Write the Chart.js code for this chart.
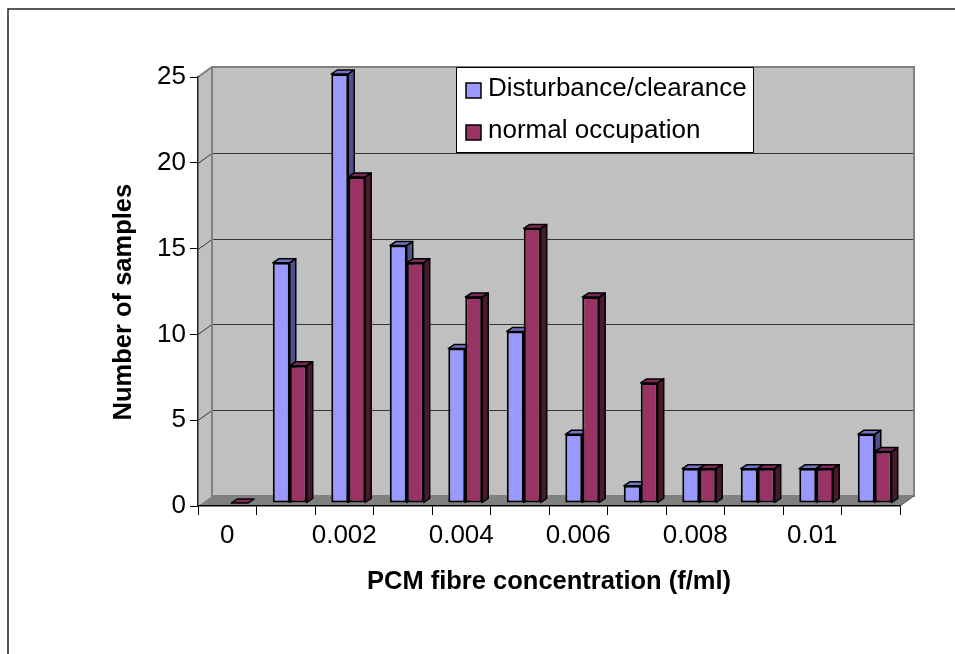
<!DOCTYPE html>
<html>
<head>
<meta charset="utf-8">
<script src="https://cdn.jsdelivr.net/npm/chart.js@4.4.1/dist/chart.umd.min.js"></script>
<style>
  html, body { margin: 0; padding: 0; background: #fff; }
</style>
</head>
<body>
<canvas id="chart" width="955" height="654"></canvas>
<script>
// data
const categories = ['0', '0.001', '0.002', '0.003', '0.004', '0.005', '0.006', '0.007', '0.008', '0.009', '0.01', '0.011'];
const disturbance = [0, 14, 25, 15, 9, 10, 4, 1, 2, 2, 2, 4];
const normalOccupation = [0, 8, 19, 14, 12, 16, 12, 7, 2, 2, 2, 3];
const yTicks = [0, 5, 10, 15, 20, 25];
const seriesNames = ['Disturbance/clearance', 'normal occupation'];

const FONT = 'Liberation Sans, Arial, Helvetica, sans-serif';
const WALL = { dx: 14, dy: 10 };   // depth of the back wall
const BAR = { dx: 6, dy: 4, shiftX: 4, shiftY: 3 }; // depth of the columns

const shades = [
    { front: '#9999ff', top: '#7373c6', side: '#50508c' },
    { front: '#993366', top: '#7a2a55', side: '#4a1830' }
];

// back wall, side wall, floor and gridlines
const wallsPlugin = {
    id: 'walls',
    beforeDraw: (chart) => {
        const ctx = chart.ctx;
        const xs = chart.scales.x;
        const ys = chart.scales.y;
        const L = xs.left, R = xs.right, T = ys.top, B = ys.bottom;

        ctx.save();
        // outer frame
        ctx.strokeStyle = '#222';
        ctx.lineWidth = 1.5;
        ctx.strokeRect(8, 9, 2000, 2000);

        // back wall
        ctx.fillStyle = '#c0c0c0';
        ctx.fillRect(L + WALL.dx, T - WALL.dy, R - L, B - T);
        // side wall
        ctx.beginPath();
        ctx.moveTo(L, T);
        ctx.lineTo(L + WALL.dx, T - WALL.dy);
        ctx.lineTo(L + WALL.dx, B - WALL.dy);
        ctx.lineTo(L, B);
        ctx.closePath();
        ctx.fill();

        // gridlines on the back wall + connectors on the side wall
        ctx.strokeStyle = '#333';
        ctx.lineWidth = 1;
        yTicks.forEach(v => {
            if (v === 0 || v === 25) return;
            const y = Math.round(ys.getPixelForValue(v)) + 0.5;
            ctx.beginPath();
            ctx.moveTo(L, y);
            ctx.lineTo(L + WALL.dx, y - WALL.dy);
            ctx.lineTo(R + WALL.dx, y - WALL.dy);
            ctx.stroke();
        });
        // top connector
        ctx.beginPath();
        ctx.moveTo(L, T);
        ctx.lineTo(L + WALL.dx, T - WALL.dy);
        ctx.stroke();

        // wall outlines
        ctx.strokeStyle = '#808080';
        ctx.lineWidth = 2;
        ctx.strokeRect(L + WALL.dx, T - WALL.dy, R - L, B - T);
        ctx.beginPath();
        ctx.moveTo(L, T);
        ctx.lineTo(L + WALL.dx, T - WALL.dy);
        ctx.stroke();

        // floor
        ctx.fillStyle = '#808080';
        ctx.beginPath();
        ctx.moveTo(L, B);
        ctx.lineTo(R, B);
        ctx.lineTo(R + WALL.dx, B - WALL.dy);
        ctx.lineTo(L + WALL.dx, B - WALL.dy);
        ctx.closePath();
        ctx.fill();
        ctx.strokeStyle = '#555';
        ctx.lineWidth = 1;
        ctx.beginPath();
        ctx.moveTo(R, B);
        ctx.lineTo(R + WALL.dx, B - WALL.dy);
        ctx.stroke();
        ctx.restore();
    }
};

function drawFaces(ctx, el, shade, flat) {
    const { x, y, base, width } = el.getProps(['x', 'y', 'base', 'width'], true);
    const l = x - width / 2, r = x + width / 2;
    ctx.strokeStyle = '#000';
    ctx.lineWidth = 1.5;
    ctx.lineJoin = 'round';
    // top face
    ctx.beginPath();
    ctx.moveTo(l, y);
    ctx.lineTo(l + BAR.dx, y - BAR.dy);
    ctx.lineTo(r + BAR.dx, y - BAR.dy);
    ctx.lineTo(r, y);
    ctx.closePath();
    ctx.fillStyle = shade.top;
    ctx.fill();
    ctx.stroke();
    if (flat) return;
    // side face
    ctx.beginPath();
    ctx.moveTo(r, y);
    ctx.lineTo(r + BAR.dx, y - BAR.dy);
    ctx.lineTo(r + BAR.dx, base - BAR.dy);
    ctx.lineTo(r, base);
    ctx.closePath();
    ctx.fillStyle = shade.side;
    ctx.fill();
    ctx.stroke();
}

// draws the columns ourselves so that each group is painted left to right
const columnsPlugin = {
    id: 'columns3d',
    beforeDatasetDraw: () => false,
    afterDatasetsDraw: (chart) => {
        const ctx = chart.ctx;
        const metas = chart.data.datasets.map((d, i) => chart.getDatasetMeta(i));
        ctx.save();
        ctx.translate(BAR.shiftX, -BAR.shiftY);
        categories.forEach((c, i) => {
            metas.forEach((meta, di) => {
                const el = meta.data[i];
                const val = chart.data.datasets[di].data[i];
                if (val > 0) {
                    el.draw(ctx);
                    drawFaces(ctx, el, shades[di], false);
                } else if (di === metas.length - 1) {
                    drawFaces(ctx, el, shades[di], true);
                }
            });
        });
        ctx.restore();
    }
};

// legend box sitting on the back wall
const legendPlugin = {
    id: 'boxLegend',
    afterDraw: (chart) => {
        const ctx = chart.ctx;
        ctx.save();
        ctx.fillStyle = '#fff';
        ctx.fillRect(456, 67, 298, 86);
        ctx.strokeStyle = '#000';
        ctx.lineWidth = 1;
        ctx.strokeRect(456.5, 67.5, 297, 85);
        ctx.font = '26px ' + FONT;
        ctx.textBaseline = 'alphabetic';
        chart.data.datasets.forEach((ds, i) => {
            const top = 83 + i * 42;
            ctx.fillStyle = ds.backgroundColor;
            ctx.fillRect(466, top, 15, 15);
            ctx.lineWidth = 1.5;
            ctx.strokeRect(466, top, 15, 15);
            ctx.fillStyle = '#000';
            ctx.fillText(ds.label, 488, top + 13);
        });
        ctx.restore();
    }
};

new Chart(document.getElementById('chart'), {
    type: 'bar',
    data: {
        labels: categories,
        datasets: [
            {
                label: seriesNames[0],
                data: disturbance,
                backgroundColor: shades[0].front,
                borderColor: '#000',
                borderWidth: 2,
                borderSkipped: false,
                categoryPercentage: 0.58,
                barPercentage: 1.0
            },
            {
                label: seriesNames[1],
                data: normalOccupation,
                backgroundColor: shades[1].front,
                borderColor: '#000',
                borderWidth: 2,
                borderSkipped: false,
                categoryPercentage: 0.58,
                barPercentage: 1.0
            }
        ]
    },
    options: {
        responsive: false,
        animation: false,
        devicePixelRatio: 1,
        layout: { padding: { top: 77, right: 55, left: 0, bottom: 0 } },
        plugins: {
            legend: { display: false },
            tooltip: { enabled: false }
        },
        scales: {
            x: {
                grid: { offset: true, drawOnChartArea: false, drawTicks: true, tickLength: 9, color: '#000', lineWidth: 1 },
                border: { display: true, color: '#000', width: 1.5 },
                ticks: {
                    autoSkip: false,
                    maxRotation: 0,
                    padding: 5,
                    color: '#000',
                    font: { size: 26, family: FONT },
                    callback: (v, i) => (i % 2 === 0 ? categories[i] : '')
                },
                title: {
                    display: true,
                    text: 'PCM fibre concentration (f/ml)',
                    color: '#000',
                    font: { size: 25.5, weight: 'bold', family: FONT },
                    padding: { top: 0, bottom: 57 }
                },
                afterFit: (s) => { s.height = 148; }
            },
            y: {
                min: 0,
                max: 25,
                afterBuildTicks: (s) => { s.ticks = yTicks.map(v => ({ value: v })); },
                grid: { drawOnChartArea: false, drawTicks: true, tickLength: 8, color: '#000', lineWidth: 1 },
                border: { display: true, color: '#222', width: 1.5 },
                ticks: {
                    padding: 4,
                    color: '#000',
                    font: { size: 26, family: FONT }
                },
                title: {
                    display: true,
                    text: 'Number of samples   ',
                    color: '#000',
                    font: { size: 25.5, weight: 'bold', family: FONT },
                    padding: { top: 109, bottom: 0 }
                },
                afterFit: (s) => { s.width = 198; }
            }
        }
    },
    plugins: [wallsPlugin, columnsPlugin, legendPlugin]
});
</script>
</body>
</html>
